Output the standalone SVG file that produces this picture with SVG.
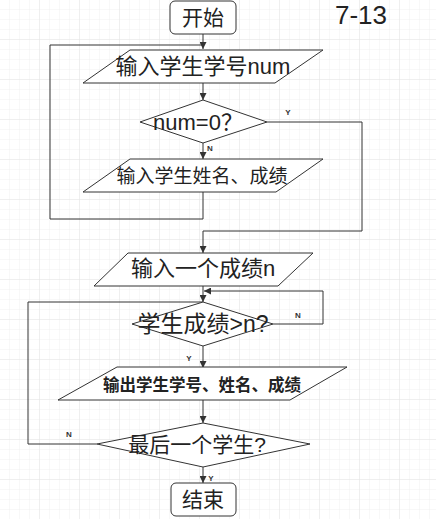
<svg xmlns="http://www.w3.org/2000/svg" width="436" height="519" viewBox="0 0 436 519">
<defs>
<pattern id="minor" width="10" height="10" patternUnits="userSpaceOnUse"><path d="M10 0V10M0 10H10" fill="none" stroke="#f1f1f1" stroke-width="1"/></pattern>
<pattern id="major" width="40" height="40" patternUnits="userSpaceOnUse"><rect width="40" height="40" fill="url(#minor)"/><path d="M40 0V40M0 40H40" fill="none" stroke="#e6e6e6" stroke-width="1"/></pattern>
<marker id="arr" viewBox="0 0 10 10" refX="10" refY="5" markerWidth="7" markerHeight="7" orient="auto" markerUnits="userSpaceOnUse"><path d="M0 0L10 5L0 10z" fill="#333"/></marker>
<style>
.s{fill:#fff;stroke:#333;stroke-width:1}
.c{fill:none;stroke:#333;stroke-width:1}
.t{font-family:"Liberation Sans","Noto Sans CJK SC",sans-serif;fill:#222;text-anchor:middle}
.l{font-family:"Liberation Sans",sans-serif;font-size:8px;font-weight:bold;fill:#333;text-anchor:middle}
</style>
</defs>
<rect width="436" height="519" fill="#fff"/>
<rect width="436" height="519" fill="url(#major)"/>
<text class="t" x="361" y="24" font-size="26">7-13</text>
<g id="connectors">
<path class="c" d="M203 34V49" marker-end="url(#arr)"/>
<path class="c" d="M203 83V100" marker-end="url(#arr)"/>
<path class="c" d="M203 143V159" marker-end="url(#arr)"/>
<path class="c" d="M203 192V219H50V45H203"/>
<path class="c" d="M267 122H362V231H203V253" marker-end="url(#arr)"/>
<path class="c" d="M203 286V302" marker-end="url(#arr)"/>
<path class="c" d="M273 324H323V291H204" marker-end="url(#arr)"/>
<path class="c" d="M203 346V368" marker-end="url(#arr)"/>
<path class="c" d="M203 400V423" marker-end="url(#arr)"/>
<path class="c" d="M97 444H28V302H203"/>
<path class="c" d="M203 467V483" marker-end="url(#arr)"/>
<text class="l" x="288" y="115">Y</text>
<text class="l" x="210" y="151">N</text>
<text class="l" x="298" y="318">N</text>
<text class="l" x="189" y="361">Y</text>
<text class="l" x="69" y="437">N</text>
<text class="l" x="211" y="481">Y</text>
</g>
<g id="start">
<rect class="s" x="170" y="1" width="66" height="33" rx="5"/>
<text class="t" x="203" y="25" font-size="21">开始</text>
</g>
<g id="input-num">
<path class="s" d="M130 50H323L275 83H83Z"/>
<text class="t" x="203" y="74" font-size="22">输入学生学号num</text>
</g>
<g id="check-num">
<path class="s" d="M203 100L267 122L203 143L140 122Z"/>
<text class="t" x="198" y="130" font-size="22">num=0？</text>
</g>
<g id="input-name">
<path class="s" d="M130 159H323L276 192H83Z"/>
<text class="t" x="202" y="183" font-size="19">输入学生姓名、成绩</text>
</g>
<g id="input-n">
<path class="s" d="M128 253H313L278 286H94Z"/>
<text class="t" x="203" y="276" font-size="22">输入一个成绩n</text>
</g>
<g id="check-score">
<path class="s" d="M203 302L273 324L203 346L132 324Z"/>
<text class="t" x="203" y="332" font-size="23">学生成绩&gt;n?</text>
</g>
<g id="output">
<path class="s" d="M117 367H347L290 400H58Z"/>
<text class="t" x="202" y="391" font-size="16.5" font-weight="bold">输出学生学号、姓名、成绩</text>
</g>
<g id="check-last">
<path class="s" d="M203 423L310 444L203 467L97 444Z"/>
<text class="t" x="197" y="452" font-size="21">最后一个学生?</text>
</g>
<g id="end">
<rect class="s" x="171" y="483" width="65" height="33" rx="5"/>
<text class="t" x="203" y="507" font-size="21">结束</text>
</g>
</svg>
